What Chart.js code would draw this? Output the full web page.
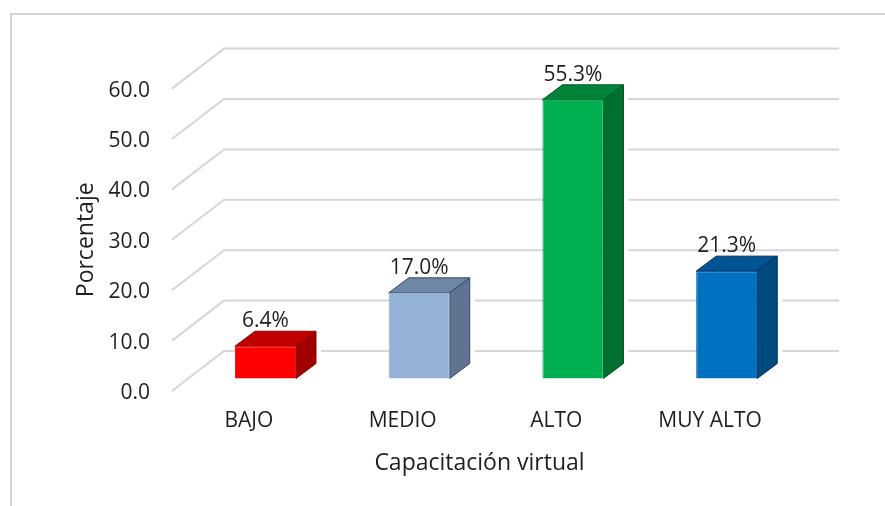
<!DOCTYPE html>
<html>
<head>
<meta charset="utf-8">
<script src="https://cdn.jsdelivr.net/npm/chart.js@4"></script>
<style>
  html, body { margin: 0; padding: 0; background: #fff; overflow: hidden; }
  #wrap { position: relative; width: 885px; height: 506px; filter: blur(0.5px); }
  #frame { position: absolute; left: 10px; top: 13px; right: 0; bottom: 0; border-left: 2px solid #d4d4d4; border-top: 2px solid #d4d4d4; }
  canvas { position: absolute; left: 0; top: 0; }
</style>
</head>
<body>
<div id="wrap">
  <div id="frame"></div>
  <canvas id="chart" width="885" height="506"></canvas>
</div>
<script>
const categories = ['BAJO', 'MEDIO', 'ALTO', 'MUY ALTO'];
const values = [6.4, 17.0, 55.3, 21.3];
const yTicks = [0, 10, 20, 30, 40, 50, 60];

const frontColors = ['#ff0000', '#95b3d7', '#00b050', '#0070c0'];
const borderColors = ['#f01010', '#8aa8cf', '#00a04a', '#00508f'];
const topColors = ['#c00000', '#6f87a6', '#00843a', '#005494'];
const sideColors = ['#a00000', '#5f7491', '#006f2f', '#004a7e'];
const edgeColors = ['#900000', '#34496a', '#005a25', '#002a60'];

const fontFamily = '"Open Sans", sans-serif';
const textColor = '#1f1f1f';

// the 3D look: walls go back by this much, bars sit part way in
const wallDepth = { x: 52, y: -40 };
const barShift = { x: 16.6, y: -12.5 };
const barDepth = { x: 20, y: -15 };

const wall3d = {
  id: 'wall3d',
  beforeDatasetsDraw(chart) {
    const ctx = chart.ctx;
    const area = chart.chartArea;
    const y = chart.scales.y;
    ctx.save();
    ctx.strokeStyle = '#d6d6d6';
    ctx.lineWidth = 2;
    yTicks.forEach(function (t) {
      const py = y.getPixelForValue(t);
      ctx.beginPath();
      ctx.moveTo(area.left, py);
      ctx.lineTo(area.left + wallDepth.x, py + wallDepth.y);
      ctx.lineTo(area.right + wallDepth.x, py + wallDepth.y);
      ctx.stroke();
    });
    // faces of the bars that chart.js does not draw
    chart.getDatasetMeta(0).data.forEach(function (bar, i) {
      const half = bar.width / 2;
      const l = bar.x - half + barShift.x;
      const r = bar.x + half + barShift.x;
      const t = bar.y + barShift.y;
      const b = bar.base + barShift.y;
      // gridlines stop a little before the bar's right side
      ctx.fillStyle = '#fff';
      ctx.fillRect(r + barDepth.x, t + barDepth.y, 5, b - t);

      ctx.lineWidth = 1;
      ctx.strokeStyle = edgeColors[i];
      ctx.fillStyle = topColors[i];
      ctx.beginPath();
      ctx.moveTo(l, t);
      ctx.lineTo(l + barDepth.x, t + barDepth.y);
      ctx.lineTo(r + barDepth.x, t + barDepth.y);
      ctx.lineTo(r, t);
      ctx.closePath();
      ctx.fill();
      ctx.stroke();

      ctx.fillStyle = sideColors[i];
      ctx.beginPath();
      ctx.moveTo(r, t);
      ctx.lineTo(r + barDepth.x, t + barDepth.y);
      ctx.lineTo(r + barDepth.x, b + barDepth.y);
      ctx.lineTo(r, b);
      ctx.closePath();
      ctx.fill();
      ctx.stroke();
    });
    ctx.restore();
  },
  beforeDatasetDraw(chart) {
    chart.ctx.save();
    chart.ctx.translate(barShift.x, barShift.y);
  },
  afterDatasetDraw(chart) {
    chart.ctx.restore();
  },
  afterDatasetsDraw(chart) {
    const ctx = chart.ctx;
    ctx.save();
    ctx.font = '21px ' + fontFamily;
    ctx.fillStyle = textColor;
    ctx.textAlign = 'center';
    ctx.textBaseline = 'middle';
    chart.getDatasetMeta(0).data.forEach(function (bar, i) {
      ctx.fillText(values[i].toFixed(1) + '%', bar.x + barShift.x, bar.y + barShift.y - 25);
    });
    ctx.restore();
  }
};

new Chart(document.getElementById('chart'), {
  type: 'bar',
  data: {
    labels: categories,
    datasets: [{
      data: values,
      backgroundColor: frontColors,
      borderColor: borderColors,
      borderWidth: 1,
      barPercentage: 1,
      categoryPercentage: 0.397,
      clip: false
    }]
  },
  plugins: [wall3d],
  options: {
    responsive: false,
    animation: false,
    layout: { padding: { left: 73, right: 98, top: 88.6, bottom: 29 } },
    plugins: { legend: { display: false }, tooltip: { enabled: false } },
    scales: {
      x: {
        grid: { display: false, drawTicks: false },
        border: { display: false },
        afterFit(scale) { scale.height = 86; },
        ticks: { color: textColor, padding: 17, font: { family: fontFamily, size: 21 }, maxRotation: 0 },
        title: { display: true, text: 'Capacitación virtual', color: textColor, padding: { top: 12, bottom: 0 }, font: { family: fontFamily, size: 23 } }
      },
      y: {
        min: 0,
        max: 60,
        grid: { display: false, drawTicks: false },
        border: { display: false },
        afterFit(scale) { scale.width = 99; },
        afterBuildTicks(scale) { scale.ticks = yTicks.map(function (v) { return { value: v }; }); },
        // labels sit a bit lower than chart.js centres them
        afterUpdate(scale) {
          const drawLabels = scale.drawLabels;
          scale.drawLabels = function (area) {
            scale.ctx.save();
            scale.ctx.translate(0, 1);
            drawLabels.call(scale, area);
            scale.ctx.restore();
          };
        },
        ticks: {
          color: textColor,
          padding: 22,
          font: { family: fontFamily, size: 21 },
          callback(v) { return v.toFixed(1); }
        },
        title: { display: true, text: 'Porcentaje', color: textColor, padding: 0, font: { family: fontFamily, size: 23 } }
      }
    }
  }
});
</script>
</body>
</html>
